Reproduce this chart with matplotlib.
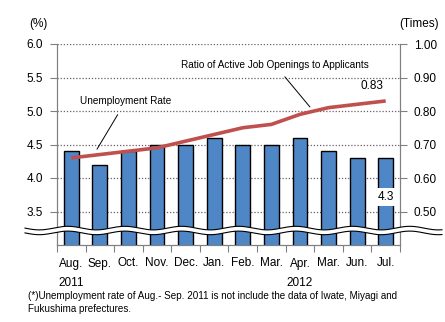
import numpy as np
import matplotlib
matplotlib.use("Agg")
from matplotlib import pyplot as plt
from matplotlib.lines import Line2D

plt.rcParams['font.family'] = ['Liberation Sans', 'DejaVu Sans']

months = ['Aug.', 'Sep.', 'Oct.', 'Nov.', 'Dec.', 'Jan.', 'Feb.', 'Mar.', 'Apr.', 'Mar.', 'Jun.', 'Jul.']
unemployment = [4.4, 4.2, 4.4, 4.5, 4.5, 4.6, 4.5, 4.5, 4.6, 4.4, 4.3, 4.3]
job_ratio = [0.66, 0.67, 0.68, 0.69, 0.71, 0.73, 0.75, 0.76, 0.79, 0.81, 0.82, 0.83]
left_ticks = [3.5, 4.0, 4.5, 5.0, 5.5, 6.0]
right_ticks = [0.5, 0.6, 0.7, 0.8, 0.9, 1.0]
years = [(0, '2011'), (8, '2012')]

W, H = 445, 322
fig = plt.figure(figsize=(W / 100, H / 100), dpi=100)
ax = fig.add_axes([57 / W, 1 - 245 / H, 343 / W, 201 / H])
ax2 = ax.twinx()

x = np.arange(len(months))
grid_c = '#6e5a6e'

ax.bar(x, unemployment, width=0.52, color='#4f86c6', edgecolor='black', linewidth=1.0, zorder=3)
ax.set_ylim(3.0, 6.0)
ax.set_xlim(-0.5, len(months) - 0.5)
ax.set_yticks(left_ticks)
ax.set_yticklabels(['%.1f' % v for v in left_ticks], fontsize=8.5)
for v in left_ticks:
    ax.axhline(v, color=grid_c, lw=0.9, ls=(0, (1, 1.5)), zorder=1)

ax2.plot(x, job_ratio, color='#c0504d', lw=2.6, solid_capstyle='butt', zorder=4)
ax2.set_ylim(0.4, 1.0)
ax2.set_yticks(right_ticks)
ax2.set_yticklabels(['%.2f' % v for v in right_ticks], fontsize=8.5)

# x ticks between categories, labels at categories
ax.set_xticks(np.arange(len(months) + 1) - 0.5)
ax.set_xticklabels([])
ax.set_xticks(x, minor=True)
ax.set_xticklabels(months, minor=True, fontsize=8.5)
ax.tick_params(axis='x', which='minor', length=0, pad=9)
ax.tick_params(axis='x', which='major', length=5, color='#808080', direction='out')
ax.tick_params(axis='y', length=5, color='#808080', pad=5)
ax2.tick_params(axis='y', length=5, color='#808080', pad=5)

for a in (ax, ax2):
    a.spines['top'].set_visible(False)
    for s in ('left', 'right', 'bottom'):
        a.spines[s].set_color('#808080')
        a.spines[s].set_linewidth(0.8)

for i, yr in years:
    ax.text(i, -38 / 201, yr, transform=ax.get_xaxis_transform(), ha='center', va='center', fontsize=8.5)

# annotations
ax2.annotate('Unemployment Rate', xy=(0.9, 4.43), xycoords=ax.transData,
             xytext=(1.91, 5.15), textcoords=ax.transData, ha='center', va='center', fontsize=7.2,
             arrowprops=dict(arrowstyle='-', color='black', lw=0.7, shrinkA=5, shrinkB=0))
ax2.annotate('Ratio of Active Job Openings to Applicants', xy=(8.35, 5.06), xycoords=ax.transData,
             xytext=(7.12, 5.69), textcoords=ax.transData, ha='center', va='center', fontsize=7.2,
             arrowprops=dict(arrowstyle='-', color='black', lw=0.7, shrinkA=4, shrinkB=0))
ax2.annotate('%.2f' % job_ratio[-1], xy=(x[-1], job_ratio[-1]), xytext=(-14, 9),
             textcoords='offset pixels', ha='center', va='bottom', fontsize=8.5)
ax2.annotate('%.1f' % unemployment[-1], xy=(x[-1], unemployment[-1]), xycoords=ax.transData,
             xytext=(0, -39), textcoords='offset pixels', ha='center', va='center', fontsize=8.5,
             bbox=dict(boxstyle='square,pad=0.25', fc='white', ec='none'), zorder=6)

# axis break band
xs = np.linspace(25, 442, 400)
wave = 1.8 * np.sin((xs - 25) / 57 * 2 * np.pi)
yc = 230.5
upper = (yc - 2.4 + wave)
lower = (yc + 2.4 + wave)
fig.patches.append(plt.Polygon(np.column_stack([np.r_[xs, xs[::-1]] / W, 1 - np.r_[upper, lower[::-1]] / H]),
                               closed=True, transform=fig.transFigure, fc='white', ec='none', zorder=10))
for yy in (upper, lower):
    fig.lines.append(Line2D(xs / W, 1 - yy / H, transform=fig.transFigure, color='black', lw=0.8, zorder=11))

fig.text(38 / W, 1 - 24 / H, '(%)', ha='center', va='center', fontsize=8.5)
fig.text(419 / W, 1 - 24 / H, '(Times)', ha='center', va='center', fontsize=8.5)
fig.text(28 / W, 1 - 296 / H,
         '(*)Unemployment rate of Aug.- Sep. 2011 is not include the data of Iwate, Miyagi and',
         ha='left', va='center', fontsize=7.1)
fig.text(28 / W, 1 - 309 / H, 'Fukushima prefectures.', ha='left', va='center', fontsize=7.1)

fig.savefig('out.png', dpi=100)
